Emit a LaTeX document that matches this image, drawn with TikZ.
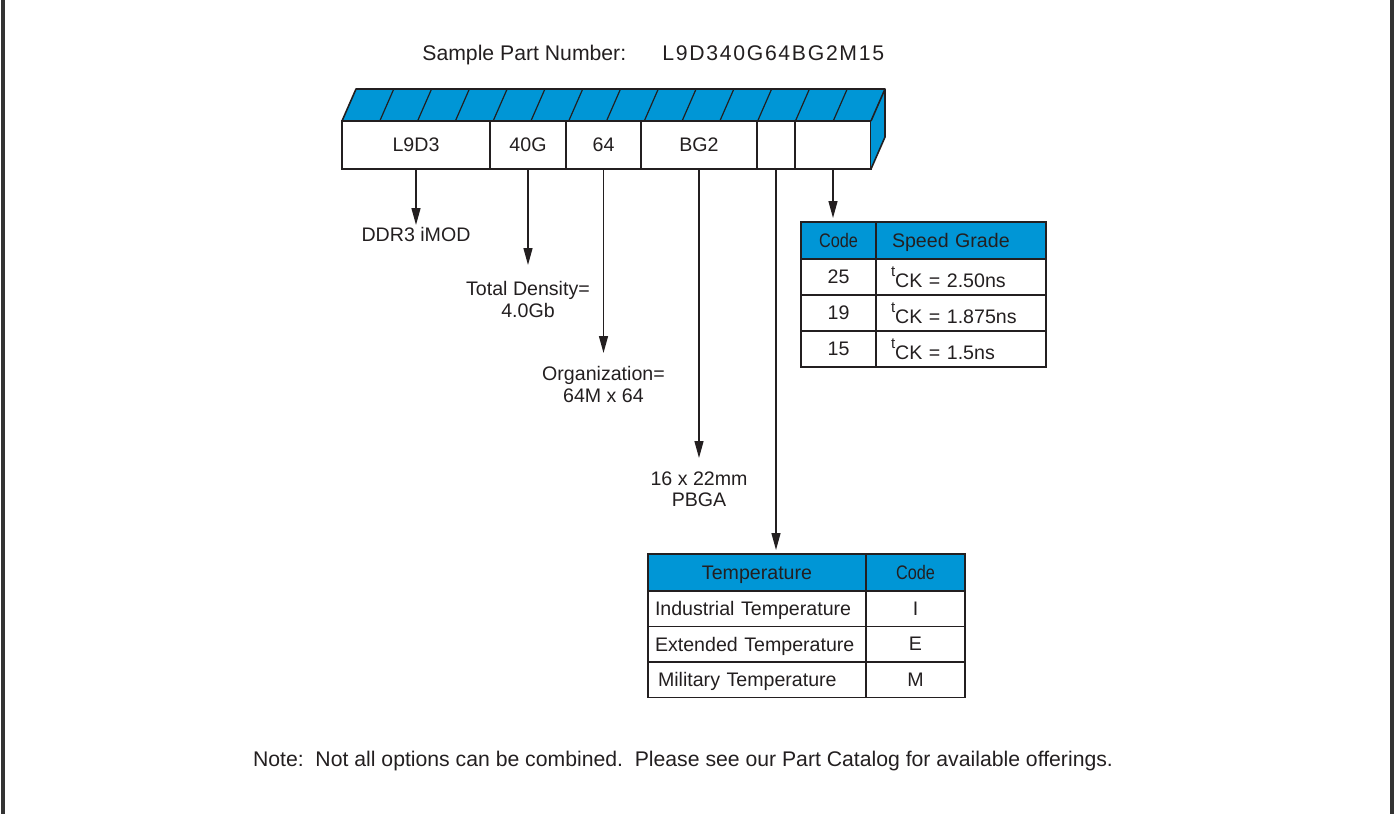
\documentclass[tikz,border=0pt]{standalone}
\usepackage{fontspec}
\setmainfont{Liberation Sans}
\newfontfamily\pnfont[LetterSpace=8]{Liberation Sans}
\usepackage{graphicx}
\usetikzlibrary{arrows.meta}
\definecolor{partblue}{RGB}{0,150,214}
\definecolor{ink}{RGB}{35,31,32}

\begin{document}
\begin{tikzpicture}[x=0.5pt,y=-0.5pt,
    font=\fontsize{9.8}{10.9}\selectfont,
    every node/.style={text=ink},
    cell/.style={draw=ink,line width=0.8pt,anchor=north west,inner sep=0pt,outer sep=0pt,minimum height=24pt},
    tcell/.style={draw=ink,line width=0.7pt,anchor=north west,inner sep=0pt,outer sep=0pt,text depth=0pt},
    head/.style={tcell,fill=partblue},
    arr/.style={draw=ink,line width=0.7pt,-{Triangle[length=8.5pt,width=4.5pt]}}]
    \useasboundingbox (0,0) rectangle (1394,814);

    \draw[line width=1.8pt,black!80] (3,0) -- (3,814);
    \draw[line width=1.8pt,black!80] (1392,0) -- (1392,814);

    \node[anchor=base west,inner sep=0pt,font=\fontsize{10.6}{12}\selectfont] (samplelbl) at (422,60) {Sample Part Number:};
    \node[anchor=base west,inner sep=0pt,font=\pnfont\fontsize{10.6}{12}\selectfont] (partno) at (662,60) {L9D340G64BG2M15};

    \node[cell,minimum width=74pt] (cl9d3) at (342,121) {L9D3};
    \node[cell,minimum width=38pt] (c40g) at (490,121) {40G};
    \node[cell,minimum width=37.5pt] (c64) at (566,121) {64};
    \node[cell,minimum width=58pt] (cbg2) at (641,121) {BG2};
    \node[cell,minimum width=19pt] (tempcell) at (757,121) {};
    \node[cell,minimum width=38pt] (speedcell) at (795,121) {};

    \fill[partblue] (cl9d3.north west) -- ++(14,-32) -- ([shift={(14,-32)}]speedcell.north east) -- (speedcell.north east) -- cycle;
    \fill[partblue] (speedcell.north east) -- ++(14,-32) -- ([shift={(14,-32)}]speedcell.south east) -- (speedcell.south east) -- cycle;
    \foreach \k in {1,...,13}
        \draw[ink,line width=0.6pt] ({342+\k*37.786},121) -- ++(14,-32);
    \draw[ink,line width=0.8pt,line join=round] (cl9d3.north west) -- ++(14,-32) -- ([shift={(14,-32)}]speedcell.north east) -- ([shift={(14,-32)}]speedcell.south east) -- (speedcell.south east);
    \draw[ink,line width=0.8pt] (speedcell.north east) -- ++(14,-32);
    \draw[ink,line width=0.8pt] (cl9d3.north west) -- (speedcell.north east);

    \node[anchor=north,inner sep=1pt] (ddr) at (416,225) {DDR3 iMOD};
    \node[anchor=north,inner sep=8pt,align=center] (dens) at (528,265) {Total Density=\\4.0Gb};
    \node[anchor=north,inner sep=6.5pt,align=center] (org) at (603.5,353) {Organization=\\64M x 64};
    \node[anchor=north,inner sep=6.5pt,align=center] (pkg) at (699,458) {16 x 22mm\\PBGA};

    \node[head,minimum width=37.5pt,minimum height=18.5pt] (spcode) at (801,222) {\scalebox{0.83}[1]{Code}};
    \node[head,minimum width=85pt,minimum height=18.5pt,text width=69pt,inner xsep=8pt,align=left] (spgrade) at (876,222) {Speed Grade};
    \node[tcell,minimum width=37.5pt,minimum height=18pt] (sp25) at (801,259) {25};
    \node[tcell,minimum width=85pt,minimum height=18pt,text width=70pt,inner xsep=7.5pt,align=left] (tck25) at (876,259) {\raisebox{5.5pt}{\fontsize{7.5}{7.5}\selectfont t}CK = 2.50ns};
    \node[tcell,minimum width=37.5pt,minimum height=18pt] (sp19) at (801,295) {19};
    \node[tcell,minimum width=85pt,minimum height=18pt,text width=70pt,inner xsep=7.5pt,align=left] (tck19) at (876,295) {\raisebox{5.5pt}{\fontsize{7.5}{7.5}\selectfont t}CK = 1.875ns};
    \node[tcell,minimum width=37.5pt,minimum height=18pt] (sp15) at (801,331) {15};
    \node[tcell,minimum width=85pt,minimum height=18pt,text width=70pt,inner xsep=7.5pt,align=left] (tck15) at (876,331) {\raisebox{5.5pt}{\fontsize{7.5}{7.5}\selectfont t}CK = 1.5ns};

    \node[head,minimum width=109pt,minimum height=18.5pt] (temphead) at (648,554) {Temperature};
    \node[head,minimum width=49.5pt,minimum height=18.5pt] (tcodehead) at (866,554) {\scalebox{0.83}[1]{Code}};
    \node[tcell,minimum width=109pt,minimum height=17.7pt,text width=102pt,inner xsep=3.5pt,align=left] (indtemp) at (648,591) {Industrial Temperature};
    \node[tcell,minimum width=49.5pt,minimum height=17.7pt] (indcode) at (866,591) {I};
    \node[tcell,minimum width=109pt,minimum height=17.7pt,text width=102pt,inner xsep=3.5pt,align=left] (exttemp) at (648,626.4) {Extended Temperature};
    \node[tcell,minimum width=49.5pt,minimum height=17.7pt] (extcode) at (866,626.4) {E};
    \node[tcell,minimum width=109pt,minimum height=17.7pt,text width=102pt,inner xsep=3.5pt,align=left] (miltemp) at (648,661.8) {\hspace{1.5pt}Military Temperature};
    \node[tcell,minimum width=49.5pt,minimum height=17.7pt] (milcode) at (866,661.8) {M};

    \draw[arr] (cl9d3.south) -- (ddr.north);
    \draw[arr] (c40g.south) -- (dens.north);
    \draw[arr] (c64.south) -- (org.north);
    \draw[arr] (cbg2.south) -- (pkg.north);
    \draw[arr,shorten >=2pt] (tempcell.south) -- (tempcell.south |- temphead.north);
    \draw[arr,shorten >=2pt] (speedcell.south) -- (speedcell.south |- spcode.north);

    \node[anchor=base,inner sep=0pt,font=\fontsize{10.6}{12}\selectfont] (note) at (683,766) {Note:\ \ Not all options can be combined.\ \ Please see our Part Catalog for available offerings.};
\end{tikzpicture}
\end{document}
